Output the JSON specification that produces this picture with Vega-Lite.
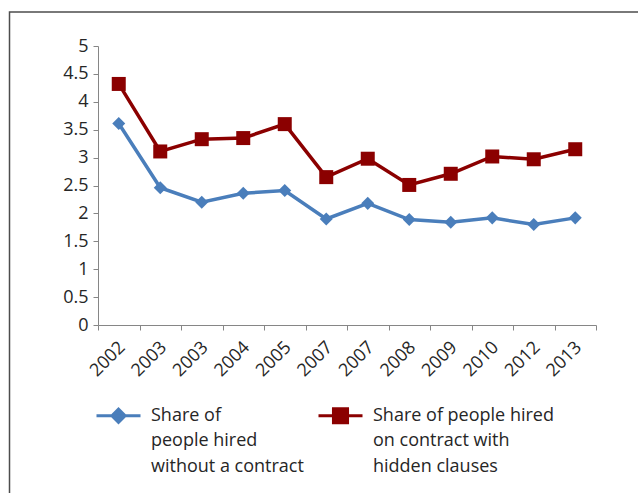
{
  "$schema": "https://vega.github.io/schema/vega-lite/v6.json",
  "width": 498,
  "height": 279,
  "autosize": {"type": "none"},
  "padding": {"left": 98, "top": 46, "right": 42, "bottom": 168},
  "background": "white",
  "config": {"font": "Open Sans", "view": {"stroke": null}},
  "data": {
    "values": [
      {"cat": "2002", "series": "without", "value": 3.61},
      {"cat": "2003", "series": "without", "value": 2.46},
      {"cat": "2003b", "series": "without", "value": 2.2},
      {"cat": "2004", "series": "without", "value": 2.36},
      {"cat": "2005", "series": "without", "value": 2.41},
      {"cat": "2007", "series": "without", "value": 1.9},
      {"cat": "2007b", "series": "without", "value": 2.18},
      {"cat": "2008", "series": "without", "value": 1.89},
      {"cat": "2009", "series": "without", "value": 1.84},
      {"cat": "2010", "series": "without", "value": 1.92},
      {"cat": "2012", "series": "without", "value": 1.8},
      {"cat": "2013", "series": "without", "value": 1.92},
      {"cat": "2002", "series": "hidden", "value": 4.32},
      {"cat": "2003", "series": "hidden", "value": 3.11},
      {"cat": "2003b", "series": "hidden", "value": 3.33},
      {"cat": "2004", "series": "hidden", "value": 3.35},
      {"cat": "2005", "series": "hidden", "value": 3.6},
      {"cat": "2007", "series": "hidden", "value": 2.65},
      {"cat": "2007b", "series": "hidden", "value": 2.98},
      {"cat": "2008", "series": "hidden", "value": 2.51},
      {"cat": "2009", "series": "hidden", "value": 2.71},
      {"cat": "2010", "series": "hidden", "value": 3.02},
      {"cat": "2012", "series": "hidden", "value": 2.97},
      {"cat": "2013", "series": "hidden", "value": 3.15}
    ]
  },
  "layer": [
    {
      "data": {"values": [{"frame": 1}]},
      "mark": {"type": "rect", "fill": null, "stroke": "#4d4d4d", "strokeWidth": 1.5, "clip": false},
      "encoding": {
        "x": {"datum": -0.1777, "type": "quantitative", "scale": {"domain": [0, 1], "nice": false, "zero": false}, "axis": null},
        "x2": {"datum": 1.3},
        "y": {"datum": 1.1219, "type": "quantitative", "scale": {"domain": [0, 1], "nice": false, "zero": false}, "axis": null},
        "y2": {"datum": -1}
      }
    },
    {
      "encoding": {
        "x": {
          "field": "cat", "type": "ordinal", "sort": null,
          "scale": {"type": "band", "paddingInner": 0, "paddingOuter": 0},
          "axis": {
            "title": null, "labelExpr": "slice(datum.label,0,4)", "labelAngle": -45,
            "tickBand": "extent", "domainColor": "#868686", "tickColor": "#868686",
            "tickSize": 5, "labelFontSize": 18, "labelColor": "#262626", "labelPadding": 8, "labelOffset": -3, "grid": false
          }
        },
        "y": {
          "field": "value", "type": "quantitative",
          "scale": {"domain": [0, 5], "nice": false},
          "axis": {
            "title": null, "values": [0, 0.5, 1, 1.5, 2, 2.5, 3, 3.5, 4, 4.5, 5], "format": "~g",
            "labelOverlap": false, "labelFlush": false,
            "grid": false, "tickSize": 5, "domainColor": "#868686", "tickColor": "#868686",
            "labelFontSize": 18, "labelColor": "#262626", "labelPadding": 5
          }
        }
      },
      "layer": [
        {
          "mark": {"type": "line", "strokeWidth": 3.5},
          "encoding": {
            "color": {
              "field": "series", "type": "nominal",
              "scale": {"domain": ["without", "hidden"], "range": ["#4a7ebb", "#8b0000"]},
              "legend": {
                "title": null, "orient": "none", "legendX": -3, "legendY": 346,
                "direction": "horizontal", "columns": 2, "symbolSize": 1936, "symbolStrokeWidth": 3,
                "labelFontSize": 18, "labelColor": "#262626", "labelOffset": 9, "columnPadding": 8,
                "labelLimit": 300,
                "labelExpr": "datum.value === 'without' ? ['Share of', 'people hired', 'without a contract'] : ['Share of people hired', 'on contract with', 'hidden clauses']",
                "encode": {
                  "labels": {"update": {"lineHeight": {"value": 25.5}}},
                  "symbols": {
                    "update": {
                      "shape": {"signal": "datum.value === 'without' ? 'M-1,0H1M-0.3,0L0,-0.3L0.3,0L0,0.3Z' : 'M-1,0H1M-0.32,-0.32H0.32V0.32H-0.32Z'"},
                      "fill": {"scale": "color", "field": "value"},
                      "stroke": {"scale": "color", "field": "value"}
                    }
                  }
                }
              }
            }
          }
        },
        {
          "transform": [{"filter": "datum.series === 'without'"}],
          "mark": {"type": "point", "filled": true, "opacity": 1, "size": 170, "shape": "diamond"},
          "encoding": {
            "color": {"field": "series", "type": "nominal", "legend": null}
          }
        },
        {
          "transform": [{"filter": "datum.series === 'hidden'"}],
          "mark": {"type": "point", "filled": true, "opacity": 1, "size": 196, "shape": "square"},
          "encoding": {
            "color": {"field": "series", "type": "nominal", "legend": null}
          }
        }
      ]
    }
  ],
  "resolve": {"scale": {"x": "independent", "y": "independent"}}
}
